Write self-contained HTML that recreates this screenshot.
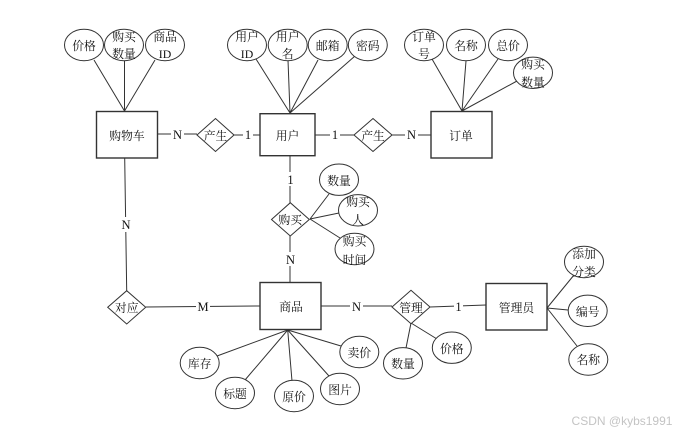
<!DOCTYPE html>
<html><head><meta charset="utf-8"><style>
html,body{margin:0;padding:0;background:#fff;width:683px;height:434px;overflow:hidden}
svg{display:block}
text{font-family:"Liberation Serif","Noto Serif CJK SC",serif;font-size:11.8px;fill:#111;text-anchor:middle}
.n{font-size:12.5px}
.l{stroke:#333;stroke-width:1;fill:none}
.s{fill:#fff;stroke:#333;stroke-width:1}
.r{fill:#fff;stroke:#333;stroke-width:1.4}
.b{fill:#fff;stroke:none}
</style></head><body>
<svg width="683" height="434" viewBox="0 0 683 434" xmlns="http://www.w3.org/2000/svg">
<g class="l">
<path d="M94 60L124.500 111M124.500 60V111M155 60L124.500 111"/>
<path d="M256 59L290 113M288 60L290 113M318 60L290 113M355 56L290 113"/>
<path d="M432 59L462 111M466 61L462 111M498 59L462 111M517 81L462 111"/>
<path d="M157 134H197M234 135H260M315 135H354M392 135H431"/>
<path d="M290 156V203M290 236V282"/>
<path d="M124.700 158L126.700 291M146 307L260 306M321 306H392M430 307L486 305"/>
<path d="M310 219L329 194M310 219L339 213M310 219L340 238"/>
<path d="M287.700 330L217 356M287.700 330L245 380M287.700 330L292 381M287.700 330L329 376M287.700 330L341 346"/>
<path d="M411 323L406 348M411 323L437 339"/>
<path d="M547 308L574 275M547 308L568 310M547 308L577 346"/>
</g>
<g class="r">
<rect x="96.500" y="111.500" width="61" height="46.500"/>
<rect x="260" y="113.700" width="55" height="42"/>
<rect x="431" y="111.500" width="61" height="46.500"/>
<rect x="260" y="282.500" width="61" height="47"/>
<rect x="486" y="283.500" width="61" height="46.500"/>
</g>
<g class="s">
<polygon points="197,135 215.500,118.500 234,135 215.500,151.500"/>
<polygon points="354,135 373,118.500 392,135 373,151.500"/>
<polygon points="271.500,219.500 290.300,202.700 309.300,219.500 290.300,236"/>
<polygon points="107.700,307.300 126.700,290.700 145.700,307.300 126.700,324"/>
<polygon points="392,307 411,290.300 430,307 411,323.700"/>
<ellipse cx="84" cy="45" rx="19.500" ry="15.700"/>
<ellipse cx="124" cy="45" rx="19.500" ry="15.700"/>
<ellipse cx="165" cy="45" rx="19.500" ry="15.700"/>
<ellipse cx="247" cy="45" rx="19.500" ry="15.700"/>
<ellipse cx="287.700" cy="45" rx="19.500" ry="15.700"/>
<ellipse cx="327.700" cy="45" rx="19.500" ry="15.700"/>
<ellipse cx="367.800" cy="45" rx="19.500" ry="15.700"/>
<ellipse cx="424" cy="45" rx="19.500" ry="15.700"/>
<ellipse cx="466" cy="45" rx="19.500" ry="15.700"/>
<ellipse cx="508" cy="45" rx="19.500" ry="15.700"/>
<ellipse cx="533" cy="72.800" rx="19.500" ry="15.700"/>
<ellipse cx="339" cy="179.700" rx="19.500" ry="15.700"/>
<ellipse cx="358" cy="210.300" rx="19.500" ry="15.700"/>
<ellipse cx="354.500" cy="249" rx="19.500" ry="15.700"/>
<ellipse cx="199.700" cy="363" rx="19.500" ry="15.700"/>
<ellipse cx="235" cy="393" rx="19.500" ry="15.700"/>
<ellipse cx="294" cy="396" rx="19.500" ry="15.700"/>
<ellipse cx="340" cy="389" rx="19.500" ry="15.700"/>
<ellipse cx="359.300" cy="352" rx="19.500" ry="15.700"/>
<ellipse cx="584" cy="262" rx="19.500" ry="15.700"/>
<ellipse cx="587.700" cy="310.800" rx="19.500" ry="15.700"/>
<ellipse cx="588.300" cy="359.500" rx="19.500" ry="15.700"/>
<ellipse cx="403" cy="363.300" rx="19.500" ry="15.700"/>
<ellipse cx="451.800" cy="347.700" rx="19.500" ry="15.700"/>
</g>
<g class="b">
<rect x="171" y="128" width="13" height="13"/>
<rect x="243" y="128" width="10" height="13"/>
<rect x="330" y="128" width="10" height="13"/>
<rect x="405" y="128" width="13" height="13"/>
<rect x="285" y="172" width="10" height="14"/>
<rect x="284" y="252" width="13" height="14"/>
<rect x="119" y="217" width="13" height="15"/>
<rect x="196" y="299" width="14" height="14"/>
<rect x="350" y="299" width="13" height="14"/>
<rect x="454" y="299" width="9" height="14"/>
</g>
<text x="84" y="50">价格</text>
<text x="124" y="41">购买</text><text x="124" y="58">数量</text>
<text x="165" y="41">商品</text><text x="165" y="58">ID</text>
<text x="247" y="41">用户</text><text x="247" y="58">ID</text>
<text x="287.700" y="41">用户</text><text x="287.700" y="58">名</text>
<text x="327.700" y="50">邮箱</text>
<text x="367.800" y="50">密码</text>
<text x="424" y="41">订单</text><text x="424" y="58">号</text>
<text x="466" y="50">名称</text>
<text x="508" y="50">总价</text>
<text x="533" y="68.500">购买</text><text x="533" y="86.500">数量</text>
<text x="127" y="140">购物车</text>
<text x="215.500" y="140">产生</text>
<text x="287.500" y="140">用户</text>
<text x="373" y="140">产生</text>
<text x="461" y="140">订单</text>
<text class="n" x="177.500" y="139">N</text>
<text class="n" x="248" y="139">1</text>
<text class="n" x="335" y="139">1</text>
<text class="n" x="411.500" y="139">N</text>
<text class="n" x="290.500" y="184">1</text>
<text class="n" x="290.500" y="264">N</text>
<text class="n" x="126" y="229">N</text>
<text class="n" x="203" y="311">M</text>
<text class="n" x="356.500" y="311">N</text>
<text class="n" x="458.500" y="311">1</text>
<text x="290.300" y="224">购买</text>
<text x="339" y="185">数量</text>
<text x="358" y="206">购买</text><text x="358" y="224">人</text>
<text x="354.500" y="245.500">购买</text><text x="354.500" y="264">时间</text>
<text x="126.700" y="312">对应</text>
<text x="291" y="311">商品</text>
<text x="411" y="312">管理</text>
<text x="516.500" y="312">管理员</text>
<text x="199.700" y="368">库存</text>
<text x="235" y="398">标题</text>
<text x="294" y="401">原价</text>
<text x="340" y="394">图片</text>
<text x="359.300" y="357">卖价</text>
<text x="584" y="258">添加</text><text x="584" y="276">分类</text>
<text x="587.700" y="316">编号</text>
<text x="588.300" y="364">名称</text>
<text x="403" y="368">数量</text>
<text x="451.800" y="353">价格</text>
<text x="622" y="425" style="font-family:'Liberation Sans',sans-serif;font-size:12px;fill:#c4c4c4">CSDN @kybs1991</text>
</svg>
</body></html>
